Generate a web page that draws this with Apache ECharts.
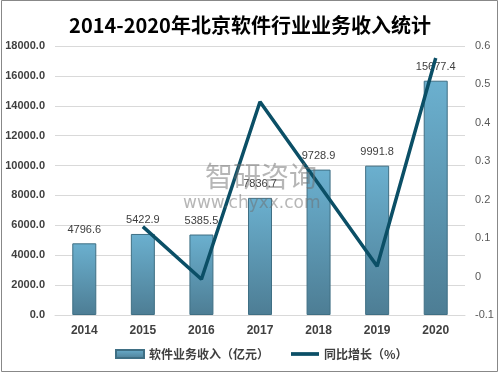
<!DOCTYPE html>
<html><head><meta charset="utf-8">
<script src="https://cdn.jsdelivr.net/npm/echarts@6/dist/echarts.min.js"></script>
<style>html,body{margin:0;padding:0;background:#fff}#c{width:500px;height:375px}</style>
</head><body><div id="c"></div>
<script>
var categories = ['2014','2015','2016','2017','2018','2019','2020'];
var revenue = [4796.6, 5422.9, 5385.5, 7836.7, 9728.9, 9991.8, 15677.4];
var growth = [null, 0.13, -0.007, 0.455, 0.241, 0.027, 0.569];
var leftTicks = {min: 0, max: 18000, interval: 2000};
var rightTicks = {min: -0.1, max: 0.6, interval: 0.1};

var chart = echarts.init(document.getElementById('c'));
chart.setOption({
  animation: false,
  backgroundColor: '#fff',
  title: {
    text: '2014-2020年北京软件行业业务收入统计',
    left: 'center', top: 10,
    textStyle: {fontFamily: 'Noto Sans CJK SC', fontSize: 20, fontWeight: 'bold', color: '#000'}
  },
  graphic: [
    {type: 'rect', shape: {x: 1.5, y: 0.5, width: 496, height: 371}, style: {fill: 'none', stroke: '#888', lineWidth: 1}, silent: true},
    {type: 'text', left: 205, top: 162, z: 100, style: {text: '智研咨询', fontSize: 28, fontFamily: 'Noto Sans CJK SC', fill: 'rgba(110,110,110,0.5)'}},
    {type: 'text', left: 183, top: 195, z: 100, style: {text: 'www.chyxx.com', fontSize: 17, fontFamily: 'DejaVu Sans', fill: 'rgba(110,110,110,0.5)'}}
  ],
  legend: {
    bottom: 10, left: 110, itemGap: 22, itemWidth: 28, itemHeight: 8,
    textStyle: {fontFamily: 'Noto Sans CJK SC', fontSize: 12, fontWeight: 'bold', color: '#404040'},
    data: [
      {name: '软件业务收入（亿元）', icon: 'rect'},
      {name: '同比增长（%）', icon: 'path://M0,0 L30,0 L30,4 L0,4 Z'}
    ]
  },
  grid: {left: 55, right: 35, top: 46, bottom: 60},
  xAxis: {
    type: 'category', data: categories,
    axisLine: {lineStyle: {color: '#d9d9d9'}},
    axisTick: {show: false},
    axisLabel: {color: '#404040', fontWeight: 'bold', fontSize: 12, fontFamily: 'Liberation Sans', margin: 10}
  },
  yAxis: [
    {type: 'value', min: leftTicks.min, max: leftTicks.max, interval: leftTicks.interval,
     axisLine: {show: false}, axisTick: {show: false},
     splitLine: {lineStyle: {color: '#d9d9d9'}},
     axisLabel: {formatter: function(v){return v.toFixed(1);}, color: '#404040', fontWeight: 'bold', fontSize: 11, fontFamily: 'Liberation Sans', margin: 10}},
    {type: 'value', min: rightTicks.min, max: rightTicks.max, interval: rightTicks.interval,
     axisLine: {show: false}, axisTick: {show: false}, splitLine: {show: false},
     axisLabel: {formatter: function(v){var r=Math.round(v*10)/10; return String(r);}, color: '#595959', fontSize: 11, fontFamily: 'Liberation Sans', margin: 10}}
  ],
  series: [
    {name: '软件业务收入（亿元）', type: 'bar', data: revenue, barWidth: 24,
     itemStyle: {
       color: new echarts.graphic.LinearGradient(0,0,0,1,[{offset:0,color:'#6bb0cf'},{offset:1,color:'#4d7d94'}]),
       borderColor: '#3f6f84', borderWidth: 1
     },
     label: {show: true, position: 'top', distance: 8, color: '#404040', fontSize: 11, fontFamily: 'Liberation Sans',
       formatter: function(p){return p.value.toFixed(1);}}
    },
    {name: '同比增长（%）', type: 'line', yAxisIndex: 1, data: growth, symbol: 'none',
     lineStyle: {color: '#0b4f66', width: 3.5}, itemStyle: {color: '#0b4f66'}, z: 5}
  ]
});
</script></body></html>
